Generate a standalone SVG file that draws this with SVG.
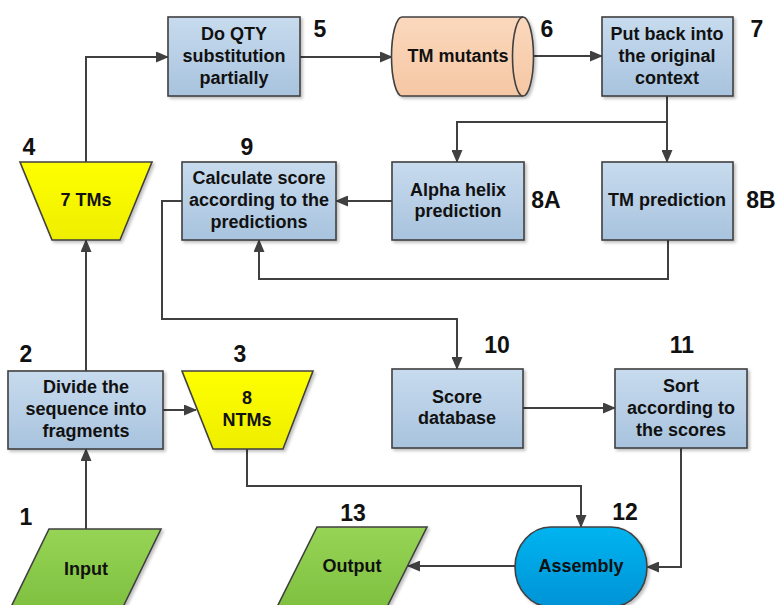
<svg xmlns="http://www.w3.org/2000/svg" width="778" height="605" viewBox="0 0 778 605">
<defs>
<linearGradient id="gBox" x1="0" y1="0" x2="0" y2="1"><stop offset="0" stop-color="#c8dbee"/><stop offset="1" stop-color="#a8c3de"/></linearGradient>
<linearGradient id="gYel" x1="0" y1="0" x2="0" y2="1"><stop offset="0" stop-color="#ffff00"/><stop offset="1" stop-color="#eeee00"/></linearGradient>
<linearGradient id="gGrn" x1="0" y1="0" x2="0" y2="1"><stop offset="0" stop-color="#96d455"/><stop offset="1" stop-color="#7fc040"/></linearGradient>
<linearGradient id="gPeach" x1="0" y1="0" x2="0" y2="1"><stop offset="0" stop-color="#fbd8bd"/><stop offset="1" stop-color="#f5c7a4"/></linearGradient>
<linearGradient id="gBlue" x1="0" y1="0" x2="0" y2="1"><stop offset="0" stop-color="#00b4f0"/><stop offset="1" stop-color="#0093d6"/></linearGradient>
<filter id="sh" x="-10%" y="-10%" width="130%" height="130%"><feDropShadow dx="2" dy="2" stdDeviation="1.5" flood-color="#000" flood-opacity="0.25"/></filter>
<marker id="ah" markerUnits="userSpaceOnUse" markerWidth="13" markerHeight="11" refX="12" refY="5.5" orient="auto"><path d="M0,0 L13,5.5 L0,11 Z" fill="#404040"/></marker>
</defs>
<style>
.box{fill:url(#gBox);stroke:#404040;stroke-width:1.6;filter:url(#sh)}
.yel{fill:url(#gYel);stroke:#404040;stroke-width:1.6;filter:url(#sh)}
.grn{fill:url(#gGrn);stroke:#404040;stroke-width:1.6;filter:url(#sh)}
.t{font-family:"Liberation Sans",Arial,sans-serif;font-weight:bold;font-size:18px;fill:#111;text-anchor:middle}
.n{font-family:"Liberation Sans",Arial,sans-serif;font-weight:bold;font-size:23px;fill:#111;text-anchor:middle}
.c{fill:none;stroke:#404040;stroke-width:2;marker-end:url(#ah)}
.c0{fill:none;stroke:#404040;stroke-width:2}
</style>
<rect width="778" height="605" fill="#fff"/>
<g id="connectors">
<path class="c" d="M86,529 L86,449"/>
<path class="c" d="M86,371 L86,240"/>
<path class="c" d="M163,410 L196,410"/>
<path class="c" d="M86,162 L86,57 L168,57"/>
<path class="c" d="M300,57 L392,57"/>
<path class="c" d="M523,56 L602,56"/>
<path class="c" d="M667,96 L667,162"/>
<path class="c" d="M667,122 L457,122 L457,162"/>
<path class="c" d="M392,201 L336,201"/>
<path class="c" d="M668,240 L668,279 L259,279 L259,240"/>
<path class="c" d="M182,201 L162,201 L162,319 L457,319 L457,369"/>
<path class="c" d="M523,408 L615,408"/>
<path class="c" d="M247,449 L247,486 L581,486 L581,527"/>
<path class="c" d="M681,448 L681,567 L647,567"/>
<path class="c" d="M515,566 L408,566"/>
</g>
<g id="n1"><polygon class="grn" points="49,529 161,529 122,609 10,609"/><text class="t" x="86" y="575">Input</text><text class="n" x="26" y="525">1</text></g>
<g id="n2"><rect class="box" x="8" y="371" width="155" height="78"/><text class="t" x="86" y="393">Divide the</text><text class="t" x="86" y="415">sequence into</text><text class="t" x="86" y="437">fragments</text><text class="n" x="26" y="362">2</text></g>
<g id="n3"><polygon class="yel" points="182,371 313,371 283,449 213,449"/><text class="t" x="247" y="404">8</text><text class="t" x="247" y="426">NTMs</text><text class="n" x="240" y="362">3</text></g>
<g id="n4"><polygon class="yel" points="20,162 152,162 120,240 52,240"/><text class="t" x="86" y="206">7 TMs</text><text class="n" x="29" y="155">4</text></g>
<g id="n5"><rect class="box" x="168" y="17" width="132" height="79"/><text class="t" x="234" y="40">Do QTY</text><text class="t" x="234" y="62">substitution</text><text class="t" x="234" y="84">partially</text><text class="n" x="320" y="37">5</text></g>
<g id="n6"><path d="M402,17 L523,17 A10.5,39.5 0 0 1 523,96 L402,96 A10.5,39.5 0 0 1 402,17 Z" fill="url(#gPeach)" stroke="#404040" stroke-width="1.6" filter="url(#sh)"/><path d="M523,17 A10.5,39.5 0 0 0 523,96" fill="none" stroke="#404040" stroke-width="1.6"/><text class="t" x="458" y="62">TM mutants</text><text class="n" x="547" y="37">6</text></g>
<g id="n7"><rect class="box" x="602" y="17" width="131" height="79"/><text class="t" x="667" y="40">Put back into</text><text class="t" x="667" y="62">the original</text><text class="t" x="667" y="84">context</text><text class="n" x="757" y="37">7</text></g>
<g id="n8a"><rect class="box" x="392" y="162" width="132" height="78"/><text class="t" x="458" y="196">Alpha helix</text><text class="t" x="458" y="217">prediction</text><text class="n" x="546" y="208">8A</text></g>
<g id="n8b"><rect class="box" x="602" y="162" width="131" height="78"/><text class="t" x="667" y="206">TM prediction</text><text class="n" x="761" y="208">8B</text></g>
<g id="n9"><rect class="box" x="182" y="162" width="154" height="78"/><text class="t" x="259" y="184">Calculate score</text><text class="t" x="259" y="206">according to the</text><text class="t" x="259" y="228">predictions</text><text class="n" x="247" y="155">9</text></g>
<g id="n10"><rect class="box" x="392" y="369" width="131" height="79"/><text class="t" x="457" y="403">Score</text><text class="t" x="457" y="424">database</text><text class="n" x="497" y="353">10</text></g>
<g id="n11"><rect class="box" x="615" y="369" width="132" height="79"/><text class="t" x="681" y="392">Sort</text><text class="t" x="681" y="414">according to</text><text class="t" x="681" y="436">the scores</text><text class="n" x="682" y="353">11</text></g>
<g id="n12"><rect x="515" y="527" width="132" height="80" rx="36" ry="40" fill="url(#gBlue)" stroke="#404040" stroke-width="1.6" filter="url(#sh)"/><text class="t" x="581" y="572">Assembly</text><text class="n" x="625" y="520">12</text></g>
<g id="n13"><polygon class="grn" points="317,527 427,527 386,609 276,609"/><text class="t" x="352" y="572">Output</text><text class="n" x="353" y="521">13</text></g>
</svg>
